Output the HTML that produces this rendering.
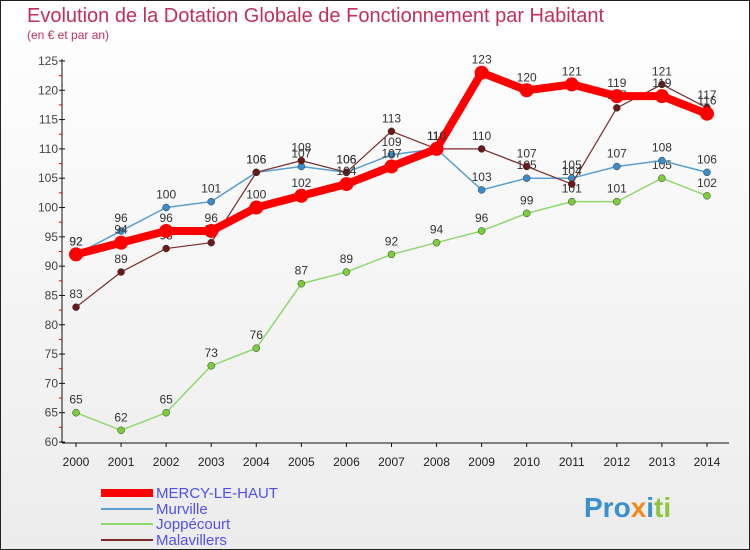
<!DOCTYPE html>
<html><head><meta charset="utf-8"><style>
body{margin:0}
#c{position:relative;width:748px;height:548px;border:1px solid #222;background:linear-gradient(#fff,#ececec);font-family:"Liberation Sans",sans-serif;overflow:hidden}
</style></head><body>
<div id="c">
<svg width="748" height="548" xmlns="http://www.w3.org/2000/svg" id="s">
<text x="26" y="21" font-size="20" fill="#c0305a">Evolution de la Dotation Globale de Fonctionnement par Habitant</text>
<text x="26" y="38" font-size="12" fill="#c0305a">(en € et par an)</text>
<g id="axes"></g><g id="series"></g><g id="legend"></g>
<text x="583" y="516" font-size="28" font-weight="bold"><tspan fill="#3a8fd0">Pro</tspan><tspan fill="#f08a1c">x</tspan><tspan fill="#3a8fd0">i</tspan><tspan fill="#8cc63f">ti</tspan></text>
</svg></div>
<script>
const years=[2000,2001,2002,2003,2004,2005,2006,2007,2008,2009,2010,2011,2012,2013,2014];
const mercy=[92,94,96,96,100,102,104,107,110,123,120,121,119,119,116];
const murville=[92,96,100,101,106,107,106,109,110,103,105,105,107,108,106];
const joppe=[65,62,65,73,76,87,89,92,94,96,99,101,101,105,102];
const malav=[83,89,93,94,106,108,106,113,110,110,107,104,117,121,117];
const yTicks=[60,65,70,75,80,85,90,95,100,105,110,115,120,125];
const NS="http://www.w3.org/2000/svg";
const X=i=>75+i*45.07, Y=v=>441-(v-60)*5.862;
function mk(p,t,a){const e=document.createElementNS(NS,t);for(const k in a)e.setAttribute(k,a[k]);p.appendChild(e);return e;}
const ax=document.getElementById('axes');
let l=mk(ax,'line',{x1:61,y1:58,x2:61,y2:442,stroke:'#111'});


l=mk(ax,'line',{x1:61,y1:442,x2:728,y2:442,stroke:'#111'});


yTicks.forEach(v=>{
 mk(ax,'line',{x1:58,y1:Y(v),x2:64,y2:Y(v),stroke:'#111'});
 if(v<125) mk(ax,'line',{x1:58,y1:Y(v+2.5),x2:61,y2:Y(v+2.5),stroke:'#e00'});
 const t=mk(ax,'text',{x:57,y:Y(v)+4,'font-size':12,fill:'#444','text-anchor':'end'});t.textContent=v;
 
 
});
years.forEach((y,i)=>{
 mk(ax,'line',{x1:X(i),y1:442,x2:X(i),y2:446,stroke:'#111'});
 const t=mk(ax,'text',{x:X(i),y:465,'font-size':12,fill:'#222','text-anchor':'middle'});t.textContent=y;
 
 
});
const sg=document.getElementById('series');
function series(data,color,w,r,name,dot){
 const g=mk(sg,'g',{});
 
 
 const pl=mk(g,'polyline',{points:data.map((v,i)=>X(i)+','+Y(v)).join(' '),fill:'none',stroke:color,'stroke-width':w,'stroke-linejoin':'round'});
 
 
 data.forEach((v,i)=>{
  const c=mk(g,'circle',{cx:X(i),cy:Y(v),r:r,fill:dot,stroke:'#333','stroke-width':w>4?0:0.5});
  
  
  const t=mk(g,'text',{x:X(i),y:Y(v)-9,'font-size':12,fill:'#333','text-anchor':'middle'});t.textContent=v;
  
  
 });
}
series(joppe,'#8ed870',1.5,3.5,'joppecourt','#7ccc3c');
series(murville,'#5a9fd0',1.5,3.5,'murville','#3a8ccc');
series(malav,'#7a2a2a',1.2,3.5,'malavillers','#6a1818');
series(mercy,'#ff0000',8,7,'mercy-le-haut','#ff0000');
const lg=document.getElementById('legend');
[['MERCY-LE-HAUT','#ff0000',8,492],['Murville','#5a9fd0',2,508],['Joppécourt','#8ed870',2,523],['Malavillers','#7a2a2a',2,539]].forEach(([n,c,w,y])=>{
 const g=mk(lg,'g',{});
 
 
 mk(g,'line',{x1:100,y1:y,x2:152,y2:y,stroke:c,'stroke-width':w});
 const t=mk(g,'text',{x:155,y:y+5,'font-size':15,fill:'#5050ee'});t.textContent=n;
});
</script>
</body></html>
